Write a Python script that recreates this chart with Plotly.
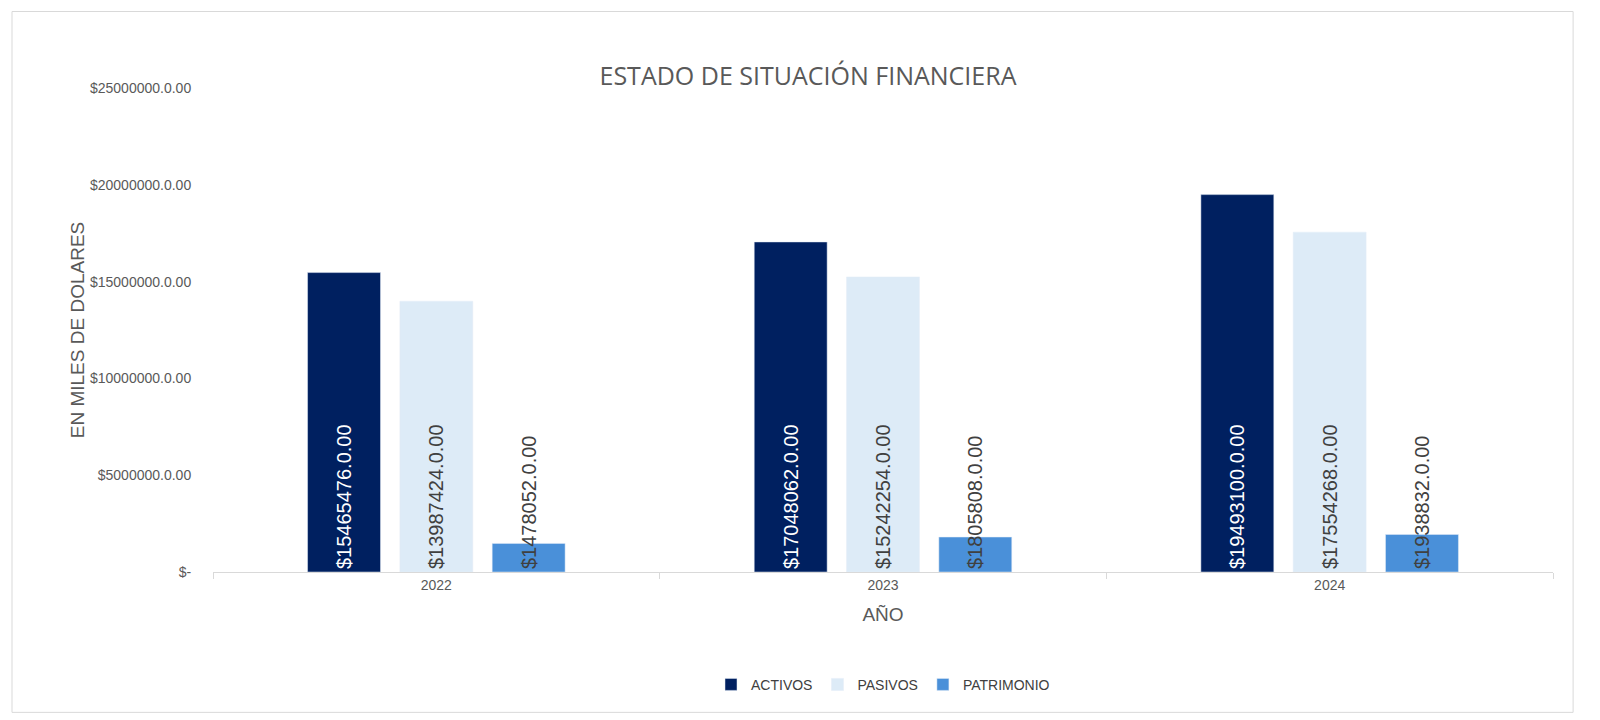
import plotly.graph_objects as go

years = ["2022", "2023", "2024"]
activos = [15465476, 17048062, 19493100]
pasivos = [13987424, 15242254, 17554268]
patrimonio = [1478052, 1805808, 1938832]
tick_vals = [0, 5000000, 10000000, 15000000, 20000000, 25000000]
tick_text = ["$-", "$5000000.0.00", "$10000000.0.00", "$15000000.0.00", "$20000000.0.00", "$25000000.0.00"]

series = [("ACTIVOS", activos, "#002060", "white"),
          ("PASIVOS", pasivos, "#DDEBF7", "#404040"),
          ("PATRIMONIO", patrimonio, "#4A90D9", "#404040")]

fig = go.Figure()
for name, vals, col, tcol in series:
    fig.add_bar(x=years, y=vals, name=name, marker_color=col,
                text=[f"${v}.0.00" for v in vals], textposition="inside",
                insidetextanchor="start", textangle=-90,
                textfont=dict(size=20, color=tcol, family="Liberation Sans"),
                cliponaxis=False)

fig.update_layout(
    width=1600, height=720, barmode="group", bargap=0.38, bargroupgap=0.21,
    paper_bgcolor="white", plot_bgcolor="white",
    margin=dict(l=205, r=55, t=80, b=156),
    font=dict(family="Liberation Sans", color="#595959"),
    title=dict(text="ESTADO DE SITUACIÓN FINANCIERA", x=0.5, xanchor="center", y=0.917,
               font=dict(size=25, color="#595959", family="Open Sans")),
    uniformtext=dict(minsize=20, mode="show"),
    legend=dict(orientation="h", x=0.5, xanchor="center", y=-0.2, yanchor="top",
                font=dict(size=14, color="#404040")),
    shapes=[dict(type="rect", xref="paper", yref="paper", x0=-0.15, x1=1.015, y0=-0.29, y1=1.158,
                 line=dict(color="#D9D9D9", width=1))],
)
fig.update_xaxes(showline=True, linecolor="#D9D9D9", ticks="outside", tickcolor="#D9D9D9",
                 tickson="boundaries", ticklen=6, tickfont=dict(size=14, color="#595959"),
                 title=dict(text="AÑO", font=dict(size=19, color="#595959"), standoff=15))
fig.update_yaxes(range=[0, 25000000], tickvals=tick_vals, ticktext=tick_text, showgrid=False,
                 zeroline=False, tickfont=dict(size=14, color="#595959"), ticks="outside",
                 tickcolor="white", ticklen=18,
                 title=dict(text="EN MILES DE DOLARES", font=dict(size=19, color="#595959"), standoff=0))
fig.write_html("out.html")
